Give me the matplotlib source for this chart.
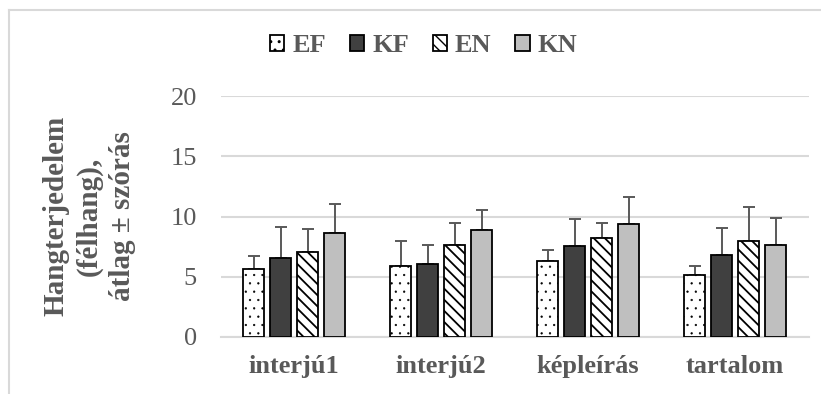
import numpy as np
import matplotlib
matplotlib.use('Agg')
from matplotlib import pyplot as plt
from matplotlib.lines import Line2D

categories = ['interjú1', 'interjú2', 'képleírás', 'tartalom']
series_names = ['EF', 'KF', 'EN', 'KN']
means = {
    'EF': [5.62, 5.90, 6.28, 5.12],
    'KF': [6.56, 6.03, 7.55, 6.80],
    'EN': [7.05, 7.63, 8.19, 8.00],
    'KN': [8.60, 8.88, 9.38, 7.63],
}
sds = {
    'EF': [1.10, 2.07, 0.97, 0.75],
    'KF': [2.54, 1.60, 2.22, 2.22],
    'EN': [1.91, 1.81, 1.27, 2.82],
    'KN': [2.47, 1.63, 2.22, 2.22],
}
y_ticks = [0, 5, 10, 15, 20]

TEXT = '#595959'
GRID = '#d9d9d9'
styles = {
    'EF': dict(facecolor='white', hatch='..'),
    'KF': dict(facecolor='#404040', hatch=None),
    'EN': dict(facecolor='white', hatch='\\\\\\'),
    'KN': dict(facecolor='#bfbfbf', hatch=None),
}
hatch_lw = {'EF': 0.4, 'KF': 1.0, 'EN': 1.3, 'KN': 1.0}

plt.rcParams['font.family'] = ['Liberation Serif', 'DejaVu Serif']
plt.rcParams['hatch.color'] = 'black'

fig = plt.figure(figsize=(8.21, 3.94), dpi=100)
ax = fig.add_axes([0.2686, 0.1447, 0.7162, 0.6116])

x = np.arange(len(categories))
step = 0.1837
width = 0.143
for i, name in enumerate(series_names):
    pos = x + (i - 1.5) * step
    plt.rcParams['hatch.linewidth'] = hatch_lw[name]
    ax.bar(pos, means[name], width, edgecolor='black', linewidth=1.3,
           label=name, zorder=3, **styles[name])
    ax.errorbar(pos, means[name], yerr=[np.zeros(len(categories)), sds[name]],
                fmt='none', ecolor=TEXT, elinewidth=1.4, capsize=4.3,
                capthick=1.4, zorder=2)

ax.set_xlim(-0.5, len(categories) - 0.5)
ax.set_ylim(0, 20)
ax.set_yticks(y_ticks)
ax.set_xticks(x)
ax.set_xticklabels(categories, fontsize=19, fontweight='bold', color=TEXT)
ax.tick_params(axis='y', length=0, pad=17, labelsize=19, labelcolor=TEXT)
ax.tick_params(axis='x', length=0, pad=13)
ax.yaxis.grid(True, color=GRID, linewidth=1.5, zorder=0)
ax.set_axisbelow(True)
for side in ['top', 'right', 'left']:
    ax.spines[side].set_visible(False)
ax.spines['bottom'].set_color(GRID)
ax.spines['bottom'].set_linewidth(1.5)

fig.text(0.109, 0.452, 'Hangterjedelem\n(félhang),\nátlag ± szórás',
         rotation=90, ha='center', va='center', fontsize=21,
         fontweight='bold', color=TEXT, linespacing=1.3)

leg = fig.legend(loc='center', bbox_to_anchor=(0.516, 0.8845), ncol=4,
                 frameon=False, handlelength=0.55, handleheight=0.55,
                 handletextpad=0.3, columnspacing=0.9,
                 prop={'size': 19, 'weight': 'bold'})
for t in leg.get_texts():
    t.set_color(TEXT)

# chart border (left and top visible)
fig.add_artist(Line2D([8.5 / 821, 8.5 / 821], [0, 1 - 9.5 / 394],
                      color=GRID, linewidth=1.5, transform=fig.transFigure))
fig.add_artist(Line2D([8.5 / 821, 1], [1 - 9.5 / 394, 1 - 9.5 / 394],
                      color=GRID, linewidth=1.5, transform=fig.transFigure))

fig.savefig('out.png', dpi=100)
